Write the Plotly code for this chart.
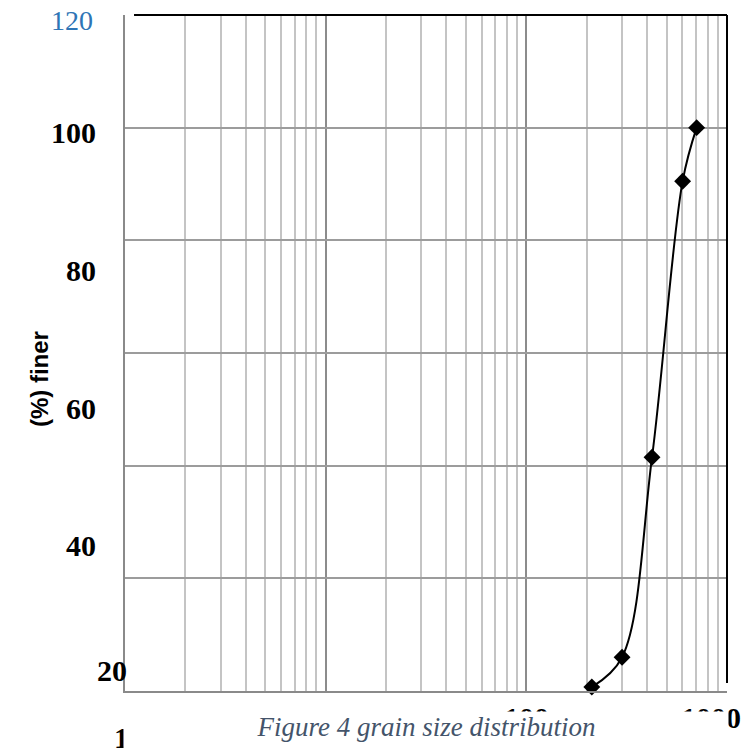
import math
import plotly.graph_objects as go

# Data
grain_size = [212, 300, 423, 601, 706]
percent_finer = [0.7, 6.0, 41.5, 90.5, 100]

y_tick_labels = ["120", "100", "80", "60", "40", "20"]
y_label_positions = [119.0, 99.2, 74.7, 50.1, 25.8, 3.7]
x_tick_vals = [1, 100, 1000]
x_tick_text = ["1", "100", "1000"]

fig = go.Figure()
fig.add_trace(go.Scatter(
    x=grain_size, y=percent_finer, mode="lines+markers",
    line=dict(color="black", width=2, shape="spline", smoothing=1.0),
    marker=dict(symbol="diamond", size=13, color="black"),
    showlegend=False, cliponaxis=False,
))

fig.update_layout(
    width=748, height=749,
    margin=dict(l=125, r=21, t=15, b=58),
    paper_bgcolor="white", plot_bgcolor="white",
    xaxis=dict(
        type="log", range=[0, 3], dtick=1, showticklabels=False,
        showgrid=True, gridcolor="#8c8c8c", gridwidth=1.5,
        minor=dict(dtick="D1", showgrid=True, gridcolor="#c4c4c4", gridwidth=1.5, ticks=""),
        showline=True, linecolor="#8a8a8a", linewidth=2, zeroline=False, ticks="",
    ),
    yaxis=dict(
        range=[0, 120], dtick=20, showticklabels=False,
        showgrid=True, gridcolor="#9c9c9c", gridwidth=1.5,
        showline=True, linecolor="#8a8a8a", linewidth=2, zeroline=False, ticks="",
    ),
)

# top and right black border
fig.add_shape(type="line", xref="paper", yref="paper", x0=0.015, x1=1, y0=1, y1=1,
              line=dict(color="black", width=2))
fig.add_shape(type="line", xref="paper", yref="paper", x0=1, x1=1, y0=0.012, y1=1,
              line=dict(color="black", width=2))

# y tick labels (offset like the original)
for lab, yv in zip(y_tick_labels, y_label_positions):
    if lab == "120":
        font = dict(family="Liberation Serif", size=28, color="#2E75B6")
        xs = -30
        text = lab
    elif lab == "20":
        font = dict(family="Liberation Serif", size=30, color="black")
        xs = 4
        text = f"<b>{lab}</b>"
    else:
        font = dict(family="Liberation Serif", size=30, color="black")
        xs = -27
        text = f"<b>{lab}</b>"
    fig.add_annotation(x=0, xref="paper", y=yv, yref="y", text=text,
                       showarrow=False, xanchor="right", yanchor="middle", xshift=xs, font=font)

# x tick labels
for xv, lab in zip(x_tick_vals, x_tick_text):
    if lab == "1":
        ys, xs, xa = -28, -4, "center"
    elif lab == "1000":
        ys, xs, xa = -8, 16, "right"
    else:
        ys, xs, xa = -8, 0, "center"
    fig.add_annotation(x=math.log10(xv), xref="x", y=0, yref="paper",
                       text=f"<b>{lab}</b>", showarrow=False, yanchor="top", xanchor=xa,
                       yshift=ys, xshift=xs,
                       font=dict(family="Liberation Serif", size=30, color="black"))

# caption in a white box that partly hides the axis labels (as in the original)
fig.add_annotation(x=0.5, xref="paper", y=-0.0296, yref="paper",
                   text="<i>Figure 4 grain size distribution</i>",
                   showarrow=False, yanchor="top", xanchor="center", valign="top",
                   width=604, height=40, bgcolor="white", borderpad=0,
                   font=dict(family="Liberation Serif", size=27, color="#44546A"))

# y title
fig.add_annotation(x=-0.168, xref="paper", y=0.462, yref="paper", text="<b>(%) finer</b>",
                   showarrow=False, textangle=-90, font=dict(family="Liberation Sans", size=24, color="black"))

fig.write_html("out.html")
